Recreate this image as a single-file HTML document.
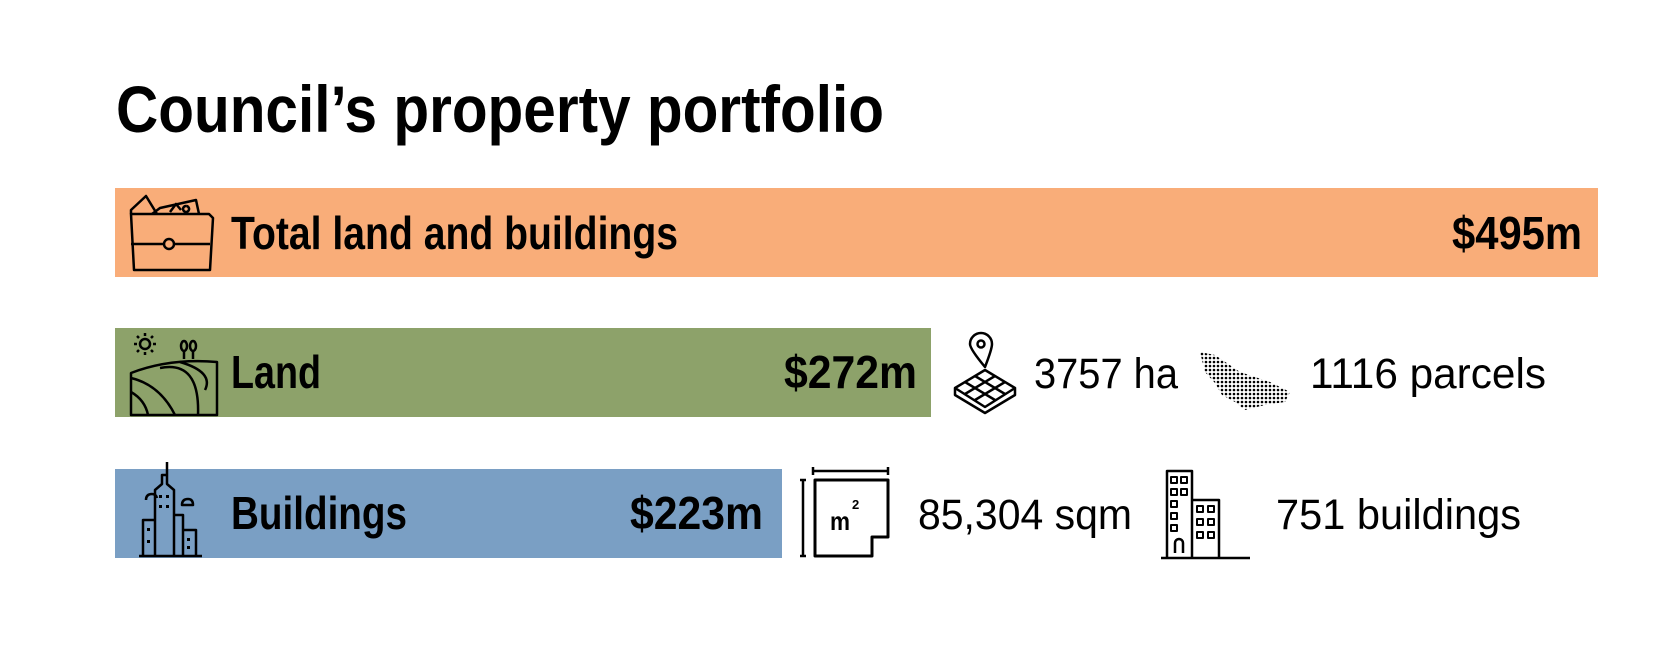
<!DOCTYPE html>
<html><head><meta charset="utf-8"><style>
html,body{margin:0;padding:0;background:#fff;width:1678px;height:652px;overflow:hidden}
svg{display:block}
text{font-family:"Liberation Sans",Arial,sans-serif}
.b{font-weight:bold;font-size:46px}
.r{font-size:43px}
</style></head><body>
<svg width="1678" height="652" viewBox="0 0 1678 652" xmlns="http://www.w3.org/2000/svg">
<text x="116" y="132" font-size="66" font-weight="bold" textLength="768" lengthAdjust="spacingAndGlyphs">Council’s property portfolio</text>

<rect x="115" y="188" width="1483" height="89" fill="#F9AD79"/>
<rect x="115" y="328" width="816" height="89" fill="#8DA26A"/>
<rect x="115" y="469" width="667" height="89" fill="#7A9FC4"/>

<text class="b" x="231" y="249" textLength="447" lengthAdjust="spacingAndGlyphs">Total land and buildings</text>
<text class="b" x="1452" y="249" textLength="130" lengthAdjust="spacingAndGlyphs">$495m</text>
<text class="b" x="231" y="388" textLength="90" lengthAdjust="spacingAndGlyphs">Land</text>
<text class="b" x="784" y="388" textLength="133" lengthAdjust="spacingAndGlyphs">$272m</text>
<text class="b" x="231" y="529" textLength="176" lengthAdjust="spacingAndGlyphs">Buildings</text>
<text class="b" x="630" y="529" textLength="133" lengthAdjust="spacingAndGlyphs">$223m</text>

<text class="r" x="1034" y="388" textLength="144" lengthAdjust="spacingAndGlyphs">3757 ha</text>
<text class="r" x="1310" y="388" textLength="236" lengthAdjust="spacingAndGlyphs">1116 parcels</text>
<text class="r" x="918" y="529" textLength="214" lengthAdjust="spacingAndGlyphs">85,304 sqm</text>
<text class="r" x="1276" y="529" textLength="245" lengthAdjust="spacingAndGlyphs">751 buildings</text>

<g fill="none" stroke="#000" stroke-width="2.5" stroke-linejoin="round">
<!-- wallet -->
<path d="M131 214 L131 210 L146 196 L157 214 M152 214 L160 208 L196 200 L199 214"/>
<path d="M170 212 L176 204 L181 210 M186 206 a3 3 0 1 0 0.1 0"/>
<path d="M131 214 L209 214 L213 218 L210 270 L134 270 Z"/>
<path d="M131 244 L163 244 M175 244 L210 244"/><circle cx="169" cy="244" r="5"/>
<!-- land -->
<circle cx="145" cy="344" r="5"/>
<path d="M145 333v3M145 352v3M134 344h3M153 344h3M137 336l2 2M151 350l2 2M153 336l-2 2M137 352l2-2"/>
<ellipse cx="184" cy="346" rx="3" ry="5"/><ellipse cx="193" cy="346" rx="3" ry="5"/>
<path d="M184 351v8M193 351v8"/>
<path d="M131 415 L131 373 Q170 358 217 362 L217 415 Z"/>
<path d="M131 378 Q160 385 175 415 M131 392 Q145 400 148 415 M160 368 Q200 360 198 415 M180 362 Q214 372 205 390"/>
<!-- city -->
<path d="M155 556 L155 490 L162 484 L162 475 L167 475 L167 484 L174 490 L174 556 M167 475 V462"/>
<path d="M143 556 V520 L155 520 M174 515 L183 515 L183 556 M183 530 L196 530 L196 556 M139 556 H202"/>
<path d="M146 500 q0-6 6-6 q4 0 5 4 M182 505 q0-6 6-6 q5 0 5 6 z"/>
<!-- pin grid -->
<path d="M985 367 Q970 349 970 344 A11 11 0 0 1 992 344 Q992 349 985 367 Z"/><circle cx="981" cy="344" r="3.5"/>
<path d="M955 388 L985 370 L1015 388 L985 407 Z M955 388 L955 395 L985 413 L1015 395 L1015 388"/>
<path d="M965 382 L995 400 M975 376 L1005 394 M965 394 L995 376 M975 400 L1005 382"/>
<!-- m2 -->
<path d="M813 471 H888 M813 467 v8 M888 467 v8 M803 480 V556 M800 480 h6 M800 556 h6"/>
<path d="M815 480 H888 V537 H872 V556 H815 Z" stroke-width="3"/>
<!-- buildings -->
<path d="M1167 557 V471 H1192 V557 M1192 500 H1219 V557 M1161 558 H1250"/>
<path d="M1175 553 V543 a4 4 0 0 1 8 0 V553"/>
<g stroke-width="2"><rect x="1171" y="477" width="6" height="6"/><rect x="1181" y="477" width="6" height="6"/><rect x="1171" y="489" width="6" height="6"/><rect x="1181" y="489" width="6" height="6"/><rect x="1171" y="501" width="6" height="6"/><rect x="1171" y="513" width="6" height="6"/><rect x="1171" y="525" width="6" height="6"/>
<rect x="1197" y="506" width="6" height="6"/><rect x="1208" y="506" width="6" height="6"/><rect x="1197" y="519" width="6" height="6"/><rect x="1208" y="519" width="6" height="6"/><rect x="1197" y="532" width="6" height="6"/><rect x="1208" y="532" width="6" height="6"/></g>
</g>
<defs><pattern id="dots" width="4" height="4" patternUnits="userSpaceOnUse"><circle cx="2" cy="2" r="1.3" fill="#000"/></pattern></defs>
<path d="M1200 352 L1215 355 L1240 372 L1270 382 L1290 392 L1285 402 L1265 405 L1245 410 L1235 402 L1222 395 L1215 383 L1205 372 Z" fill="url(#dots)"/>
<g fill="#000"><rect x="159" y="495" width="3" height="3"/><rect x="166" y="495" width="3" height="3"/><rect x="159" y="505" width="3" height="3"/><rect x="166" y="505" width="3" height="3"/><rect x="147" y="528" width="3" height="3"/><rect x="147" y="540" width="3" height="3"/><rect x="187" y="538" width="3" height="3"/><rect x="187" y="546" width="3" height="3"/></g>
<text x="830" y="530" font-size="26" font-weight="bold" textLength="20" lengthAdjust="spacingAndGlyphs">m</text><text x="852" y="509" font-size="13" font-weight="bold">2</text>
</svg>
</body></html>
